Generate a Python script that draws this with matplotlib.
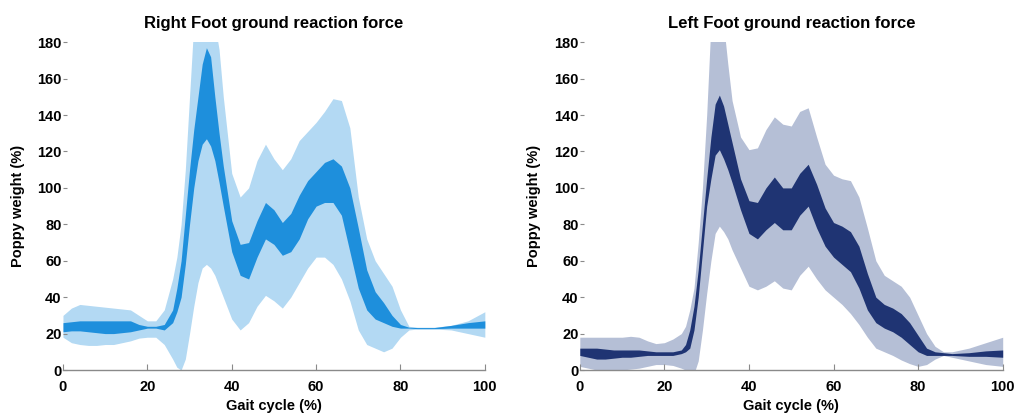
import matplotlib
matplotlib.use("Agg")
import matplotlib.pyplot as plt
import numpy as np

plt.rcParams['font.family'] = ['Liberation Sans', 'DejaVu Sans']

# gait cycle sample points (%)
x_right = [0, 2, 4, 6, 8, 10, 12, 14, 16, 18, 20, 22, 24, 26, 27, 28, 29, 30, 31, 32, 33, 34, 35, 36, 37, 38,
           40, 42, 44, 46, 48, 50, 52, 54, 56, 58, 60, 62, 64, 66, 68, 70, 72, 74, 76, 78, 80, 82, 84, 88, 92, 96, 100]
x_left = [0, 2, 4, 6, 8, 10, 12, 14, 16, 18, 20, 22, 24, 25, 26, 27, 28, 29, 30, 31, 32, 33, 34, 35, 36, 38,
          40, 42, 44, 46, 48, 50, 52, 54, 56, 58, 60, 62, 64, 66, 68, 70, 72, 74, 76, 78, 80, 82, 84, 86, 88, 92, 96, 100]

# right foot: outer band (light) and inner band (dark)
right_outer_hi = [30, 34, 36, 35.5, 35, 34.5, 34, 33.5, 33, 30, 27, 27, 33, 50, 62, 80, 110, 150, 190, 200, 205, 205, 200, 190, 176, 150,
                  108, 95, 100, 115, 124, 116, 110, 116, 126, 131, 136, 142, 149, 148, 133, 95, 72, 60, 53, 46, 33, 24, 23.5, 23.5, 24.5, 27, 32]
right_outer_lo = [18, 15, 14, 13.5, 13.5, 14, 14, 15, 16, 17.5, 18, 18, 14, 6, 1.5, 0, 6, 20, 35, 48, 56, 58, 56, 52, 46, 40,
                  28, 22, 26, 35, 41, 38, 34, 40, 48, 56, 62, 62, 58, 50, 38, 22, 14, 12, 10, 12, 18, 22, 22.5, 22.5, 22, 20, 18]
right_inner_hi = [26, 26.5, 27, 27, 27, 27, 27, 27, 27, 25, 24, 24, 25, 33, 45, 60, 85, 110, 132, 150, 168, 177, 172, 150, 130, 112,
                  82, 69, 70, 82, 92, 88, 81, 86, 96, 104, 109, 114, 116, 112, 100, 78, 55, 43, 37, 30, 25, 23.5, 23.3, 23.3, 24.5, 26, 27]
right_inner_lo = [21, 21.5, 21.5, 21, 20.5, 20, 20, 20.5, 21, 22, 23, 23, 22, 26, 32, 40, 58, 80, 100, 115, 124, 127, 123, 115, 103, 90,
                  65, 52, 50, 62, 72, 69, 63, 65, 72, 83, 90, 92, 92, 85, 65, 45, 33, 28, 26, 24, 23, 23, 22.7, 22.7, 23, 23, 23]

# left foot
left_outer_hi = [18, 18, 18, 18, 18, 18, 18.5, 18, 16, 14.5, 15, 17, 20, 24, 33, 45, 70, 100, 140, 190, 200, 200, 190, 168, 148, 128,
                 121, 122, 132, 139, 135, 134, 142, 144, 128, 113, 107, 105, 104, 95, 78, 60, 52, 49, 46, 40, 30, 20, 13, 10, 10, 12, 15, 18]
left_outer_lo = [2, 1, 0, 0, 0, 0, 0.5, 1, 2, 3, 3, 2.5, 1, 0, -2, -2, 5, 22, 42, 60, 75, 79, 76, 72, 66, 56,
                 46, 44, 46, 49, 45, 44, 52, 57, 50, 44, 40, 36, 31, 25, 18, 12, 10, 8, 5.5, 3.5, 2, 3, 6, 8, 7, 5, 3, 2]
left_inner_hi = [12, 12, 12, 11.5, 11, 11, 11, 11, 10.5, 10, 10, 10, 11, 14, 22, 35, 55, 80, 105, 128, 146, 151, 145, 135, 125, 105,
                 93, 92, 100, 106, 100, 100, 108, 113, 102, 89, 81, 79, 76, 68, 53, 40, 36, 34, 31, 26, 19, 12, 10, 9.5, 9, 9.5, 10.5, 11]
left_inner_lo = [8, 7, 6, 6, 6.5, 7, 7, 7.5, 8, 8, 8, 8, 9, 10, 12, 22, 40, 65, 90, 105, 118, 121, 116, 110, 103, 88,
                 75, 72, 77, 81, 77, 77, 85, 90, 78, 68, 62, 58, 54, 45, 33, 26, 23, 21, 18, 14, 10, 8, 8, 8, 8, 7.5, 7.5, 7]

fig = plt.figure(figsize=(10.19, 4.17), dpi=100)
ax1 = fig.add_axes([0.0618, 0.1127, 0.414, 0.786])
ax2 = fig.add_axes([0.569, 0.1127, 0.415, 0.786])

panels = [
    (ax1, x_right, right_outer_lo, right_outer_hi, right_inner_lo, right_inner_hi,
     '#b3d9f3', '#1e8fdc', 'Right Foot ground reaction force'),
    (ax2, x_left, left_outer_lo, left_outer_hi, left_inner_lo, left_inner_hi,
     '#b5bfd6', '#1f3473', 'Left Foot ground reaction force'),
]

for ax, x, olo, ohi, ilo, ihi, light, dark, title in panels:
    ax.fill_between(x, olo, ohi, color=light, lw=0)
    ax.fill_between(x, ilo, ihi, color=dark, lw=0)
    ax.set_xlim(0, 100)
    ax.set_ylim(0, 180)
    ax.set_xticks(np.arange(0, 101, 20))
    ax.set_yticks(np.arange(0, 181, 20))
    for s in ['top', 'right', 'left']:
        ax.spines[s].set_visible(False)
    ax.spines['bottom'].set_color('#8a8a8a')
    ax.spines['bottom'].set_linewidth(1.0)
    ax.tick_params(axis='x', direction='in', length=4, color='#8a8a8a', pad=7, labelsize=10.5)
    ax.tick_params(axis='y', direction='in', length=3, color='#8a8a8a', pad=1, labelsize=10.5)
    for lab in ax.get_xticklabels() + ax.get_yticklabels():
        lab.set_fontweight('bold')
    ax.set_title(title, fontsize=12, fontweight='bold', pad=10)
    ax.set_xlabel('Gait cycle (%)', fontsize=10.5, fontweight='bold', labelpad=4)
    ax.set_ylabel('Poppy weight (%)', fontsize=10.5, fontweight='bold', labelpad=9)

fig.savefig('out.png', dpi=100)
